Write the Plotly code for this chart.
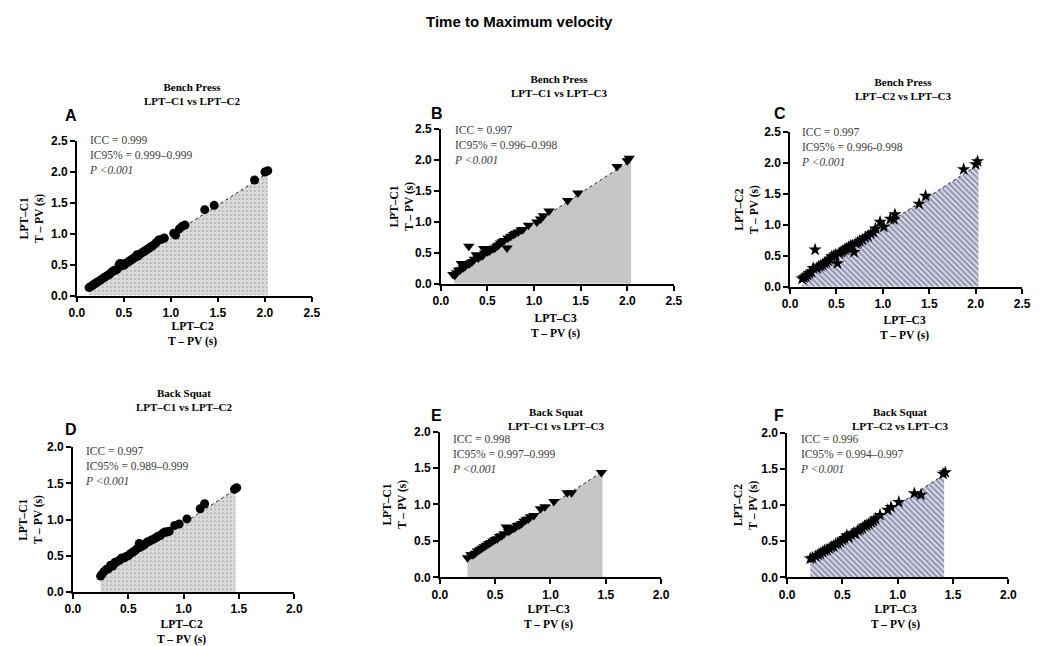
import plotly.graph_objects as go

W, H = 1040, 646

# ---- data: T - PV (s) per device pair ----
a_x = [0.13, 0.15, 0.17, 0.19, 0.21, 0.23, 0.25, 0.27, 0.29, 0.31, 0.33, 0.35, 0.37, 0.39, 0.41, 0.43,
       0.45, 0.46, 0.47, 0.48, 0.49, 0.50, 0.52, 0.54, 0.56, 0.58, 0.60, 0.62, 0.64, 0.65, 0.67, 0.69,
       0.71, 0.73, 0.75, 0.77, 0.79, 0.81, 0.84, 0.87, 0.90, 0.93, 1.03, 1.05, 1.09, 1.12, 1.15, 1.36,
       1.46, 1.89, 2.00, 2.03]
a_y = [0.13, 0.15, 0.17, 0.19, 0.21, 0.23, 0.25, 0.27, 0.29, 0.31, 0.33, 0.35, 0.38, 0.40, 0.41, 0.43,
       0.50, 0.52, 0.48, 0.50, 0.51, 0.49, 0.52, 0.54, 0.56, 0.58, 0.60, 0.62, 0.66, 0.64, 0.67, 0.69,
       0.71, 0.73, 0.75, 0.77, 0.79, 0.81, 0.85, 0.90, 0.91, 0.93, 1.01, 0.98, 1.08, 1.12, 1.14, 1.39,
       1.46, 1.87, 2.00, 2.02]

b_x = [0.13, 0.15, 0.17, 0.19, 0.21, 0.22, 0.24, 0.26, 0.30, 0.30, 0.32, 0.34, 0.36, 0.38, 0.40, 0.41,
       0.43, 0.45, 0.46, 0.47, 0.48, 0.50, 0.52, 0.54, 0.56, 0.58, 0.60, 0.62, 0.64, 0.66, 0.68, 0.71,
       0.72, 0.75, 0.78, 0.80, 0.83, 0.86, 0.88, 0.94, 1.03, 1.07, 1.10, 1.16, 1.36, 1.47, 1.89, 2.00, 2.02]
b_y = [0.15, 0.14, 0.18, 0.22, 0.23, 0.33, 0.26, 0.28, 0.61, 0.32, 0.34, 0.36, 0.40, 0.47, 0.42, 0.44,
       0.45, 0.46, 0.57, 0.50, 0.55, 0.52, 0.53, 0.56, 0.57, 0.58, 0.61, 0.63, 0.66, 0.68, 0.70, 0.58,
       0.74, 0.77, 0.80, 0.82, 0.84, 0.87, 0.88, 0.95, 1.00, 1.05, 1.10, 1.18, 1.35, 1.47, 1.90, 1.99, 2.03]

c_x = [0.13, 0.15, 0.17, 0.19, 0.21, 0.23, 0.25, 0.27, 0.29, 0.31, 0.33, 0.35, 0.37, 0.39, 0.41, 0.43,
       0.45, 0.47, 0.49, 0.51, 0.53, 0.55, 0.57, 0.59, 0.61, 0.63, 0.65, 0.67, 0.69, 0.71, 0.73, 0.75,
       0.78, 0.81, 0.84, 0.87, 0.90, 0.92, 0.97, 1.01, 1.08, 1.12, 1.13, 1.39, 1.46, 1.87, 2.00, 2.02]
c_y = [0.13, 0.15, 0.17, 0.19, 0.22, 0.24, 0.30, 0.60, 0.30, 0.33, 0.34, 0.36, 0.38, 0.40, 0.42, 0.45,
       0.49, 0.50, 0.52, 0.38, 0.54, 0.56, 0.58, 0.60, 0.62, 0.64, 0.66, 0.67, 0.56, 0.70, 0.72, 0.74,
       0.76, 0.80, 0.82, 0.86, 0.88, 0.94, 1.05, 0.97, 1.10, 1.09, 1.17, 1.34, 1.47, 1.90, 1.98, 2.03]

d_x = [0.25, 0.26, 0.28, 0.30, 0.32, 0.34, 0.36, 0.38, 0.40, 0.42, 0.44, 0.46, 0.48, 0.50, 0.52, 0.54,
       0.56, 0.58, 0.60, 0.61, 0.63, 0.65, 0.67, 0.69, 0.71, 0.73, 0.75, 0.77, 0.79, 0.81, 0.83, 0.85,
       0.87, 0.92, 0.96, 1.03, 1.15, 1.19, 1.46, 1.48]
d_y = [0.22, 0.24, 0.28, 0.31, 0.32, 0.37, 0.36, 0.41, 0.42, 0.44, 0.47, 0.47, 0.49, 0.50, 0.53, 0.55,
       0.57, 0.60, 0.67, 0.62, 0.64, 0.66, 0.69, 0.70, 0.72, 0.73, 0.75, 0.77, 0.78, 0.81, 0.83, 0.83,
       0.84, 0.92, 0.94, 1.01, 1.15, 1.22, 1.42, 1.44]

e_x = [0.25, 0.28, 0.30, 0.32, 0.34, 0.36, 0.38, 0.40, 0.42, 0.44, 0.46, 0.48, 0.50, 0.52, 0.54, 0.56,
       0.58, 0.60, 0.62, 0.64, 0.66, 0.68, 0.70, 0.72, 0.74, 0.76, 0.78, 0.80, 0.82, 0.85, 0.91, 0.95,
       1.03, 1.15, 1.19, 1.46]
e_y = [0.27, 0.31, 0.31, 0.33, 0.36, 0.38, 0.40, 0.42, 0.44, 0.46, 0.48, 0.50, 0.52, 0.53, 0.56, 0.57,
       0.60, 0.69, 0.63, 0.65, 0.67, 0.68, 0.71, 0.72, 0.74, 0.77, 0.79, 0.80, 0.83, 0.85, 0.94, 0.97,
       1.04, 1.16, 1.16, 1.44]

f_x = [0.21, 0.23, 0.26, 0.28, 0.30, 0.32, 0.34, 0.36, 0.38, 0.40, 0.42, 0.44, 0.46, 0.48, 0.50, 0.52,
       0.54, 0.56, 0.58, 0.60, 0.62, 0.64, 0.66, 0.68, 0.70, 0.72, 0.74, 0.76, 0.78, 0.80, 0.84, 0.91,
       0.94, 1.01, 1.15, 1.21, 1.41, 1.43]
f_y = [0.26, 0.27, 0.29, 0.31, 0.33, 0.35, 0.37, 0.38, 0.40, 0.42, 0.43, 0.46, 0.47, 0.49, 0.52, 0.54,
       0.58, 0.55, 0.59, 0.61, 0.60, 0.65, 0.66, 0.68, 0.71, 0.72, 0.74, 0.76, 0.78, 0.81, 0.86, 0.93,
       0.97, 1.04, 1.16, 1.14, 1.43, 1.45]

# agreement line (shaded area underneath), endpoints per panel
fit_x = {"A": [0.13, 2.03], "B": [0.14, 2.04], "C": [0.13, 2.03],
         "D": [0.25, 1.47], "E": [0.25, 1.47], "F": [0.21, 1.42]}
fit_y = {"A": [0.13, 1.98], "B": [0.13, 2.00], "C": [0.13, 1.98],
         "D": [0.20, 1.42], "E": [0.25, 1.45], "F": [0.21, 1.42]}

icc = {"A": "0.999", "B": "0.997", "C": "0.997", "D": "0.997", "E": "0.998", "F": "0.996"}
ic95 = {"A": "0.999–0.999", "B": "0.996–0.998", "C": "0.996-0.998",
        "D": "0.989–0.999", "E": "0.997–0.999", "F": "0.994–0.997"}
exercise = {"A": "Bench Press", "B": "Bench Press", "C": "Bench Press",
            "D": "Back Squat", "E": "Back Squat", "F": "Back Squat"}
y_dev = {"A": "LPT–C1", "B": "LPT–C1", "C": "LPT–C2", "D": "LPT–C1", "E": "LPT–C1", "F": "LPT–C2"}
x_dev = {"A": "LPT–C2", "B": "LPT–C3", "C": "LPT–C3", "D": "LPT–C2", "E": "LPT–C3", "F": "LPT–C3"}
axis_max = {"A": 2.5, "B": 2.5, "C": 2.5, "D": 2.0, "E": 2.0, "F": 2.0}
tick_vals = {2.5: [0.0, 0.5, 1.0, 1.5, 2.0, 2.5], 2.0: [0.0, 0.5, 1.0, 1.5, 2.0]}
points = {"A": (a_x, a_y), "B": (b_x, b_y), "C": (c_x, c_y),
          "D": (d_x, d_y), "E": (e_x, e_y), "F": (f_x, f_y)}

# ---- layout geometry (pixels: left, right, bottom, top of plot area) ----
boxes = {"A": (70, 309, 295, 137), "B": (440, 677, 283, 125), "C": (795, 1031, 286, 128),
         "D": (66, 291, 598, 450), "E": (439, 664, 583, 434), "F": (792, 1017, 583, 435)}
symbols = {"A": "circle", "B": "triangle-down", "C": "star",
           "D": "circle", "E": "triangle-down", "F": "star"}
msize = {"circle": 9, "triangle-down": 10, "star": 10}

dots = dict(shape=".", bgcolor="#dadada", fgcolor="#3a3a3a", size=4, solidity=0.12, fillmode="overlay")
stripes = dict(shape="\\", bgcolor="#e4e4ec", fgcolor="#3f4478", size=4, solidity=0.55, fillmode="overlay")
fills = {"A": dots, "B": None, "C": stripes, "D": dots, "E": None, "F": stripes}

# label positions (pixels)
letter_pos = {"A": (64, 111), "B": (436, 109), "C": (785, 109), "D": (64, 432), "E": (436, 418), "F": (784, 418)}
title_pos = {"A": (187, 89), "B": (560, 81), "C": (910, 84), "D": (179, 402), "E": (557, 421), "F": (907, 421)}
stat_pos = {"A": (80, 128), "B": (451, 118), "C": (804, 120), "D": (76, 446), "E": (449, 433), "F": (803, 433)}
ytitle_x = {"A": 25, "B": 400, "C": 751, "D": 23, "E": 394, "F": 750}
xtitle_y = {"A": 318, "B": 310, "C": 312, "D": 623, "E": 607, "F": 607}


def px(x):
    return x / W


def py(y):
    return 1 - y / H


fig = go.Figure()
serif = "Liberation Serif, Times New Roman, serif"
sans = "Liberation Sans, Arial, sans-serif"
annotations = []

for i, k in enumerate(["A", "B", "C", "D", "E", "F"], start=1):
    xa = "x" if i == 1 else f"x{i}"
    ya = "y" if i == 1 else f"y{i}"
    l, r, b, t = boxes[k]
    m = axis_max[k]

    fill_kw = dict(fill="tozeroy")
    if fills[k] is None:
        fill_kw["fillcolor"] = "#c6c6c6"
    else:
        fill_kw["fillpattern"] = fills[k]
    fig.add_trace(go.Scatter(x=fit_x[k], y=fit_y[k], mode="lines", xaxis=xa, yaxis=ya,
                             line=dict(color="#222", width=1, dash="dot"),
                             showlegend=False, hoverinfo="skip", **fill_kw))
    xs, ys = points[k]
    fig.add_trace(go.Scatter(x=xs, y=ys, mode="markers", xaxis=xa, yaxis=ya,
                             marker=dict(symbol=symbols[k], size=msize[symbols[k]], color="black",
                                         line=dict(width=0)),
                             showlegend=False))

    axis_common = dict(range=[0, m], tickvals=tick_vals[m], ticktext=[f"{v:.1f}" for v in tick_vals[m]],
                       showgrid=False, zeroline=False, showline=True, linecolor="black", linewidth=1.5,
                       ticks="outside", ticklen=5, tickwidth=1.5, tickcolor="black",
                       tickfont=dict(family=sans, size=12, color="black", weight="bold"))
    fig.update_layout(**{
        ("xaxis" if i == 1 else f"xaxis{i}"): dict(domain=[px(l), px(r)], anchor=ya, **axis_common),
        ("yaxis" if i == 1 else f"yaxis{i}"): dict(domain=[py(b), py(t)], anchor=xa, **axis_common),
    })

    lx, ly = letter_pos[k]
    annotations.append(dict(x=px(lx), y=py(ly), xref="paper", yref="paper", text=f"<b>{k}</b>",
                            showarrow=False, xanchor="center", yanchor="middle",
                            font=dict(family=sans, size=16, color="black")))
    tx, ty = title_pos[k]
    annotations.append(dict(x=px(tx), y=py(ty), xref="paper", yref="paper",
                            text=f"<b>{exercise[k]}</b><br><b>{y_dev[k]} vs {x_dev[k]}</b>",
                            showarrow=False, xanchor="center", yanchor="middle", align="center",
                            font=dict(family=serif, size=11, color="black")))
    sx, sy = stat_pos[k]
    annotations.append(dict(x=px(sx), y=py(sy), xref="paper", yref="paper",
                            text=f"ICC = {icc[k]}<br>IC95% = {ic95[k]}<br><i>P &lt;0.001</i>",
                            showarrow=False, xanchor="left", yanchor="top", align="left",
                            font=dict(family=serif, size=11.5, color="#404040")))
    annotations.append(dict(x=px(ytitle_x[k]), y=py((b + t) / 2), xref="paper", yref="paper",
                            text=f"<b>{y_dev[k]}</b><br><b>T – PV (s)</b>", textangle=-90,
                            showarrow=False, xanchor="center", yanchor="middle", align="center",
                            font=dict(family=serif, size=11.5, color="black")))
    annotations.append(dict(x=px((l + r) / 2 - 2), y=py(xtitle_y[k]), xref="paper", yref="paper",
                            text=f"<b>{x_dev[k]}</b><br><b>T – PV (s)</b>",
                            showarrow=False, xanchor="center", yanchor="top", align="center",
                            font=dict(family=serif, size=11.5, color="black")))

annotations.append(dict(x=0.5, y=py(15), xref="paper", yref="paper", text="<b>Time to Maximum velocity</b>",
                        showarrow=False, xanchor="center", yanchor="middle",
                        font=dict(family=sans, size=15, color="black")))

fig.update_layout(width=W, height=H, margin=dict(l=0, r=0, t=0, b=0),
                  paper_bgcolor="white", plot_bgcolor="white", annotations=annotations)

fig.write_html("out.html")
